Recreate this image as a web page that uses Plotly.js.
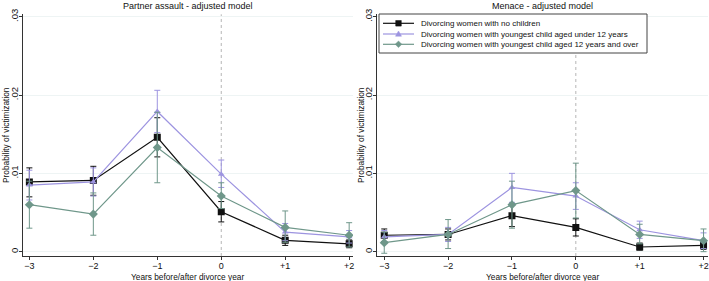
<!DOCTYPE html>
<html>
<head>
<meta charset="utf-8">
<script src="https://cdn.plot.ly/plotly-3.0.1.min.js"></script>
<style>html,body{margin:0;padding:0;background:#fff;}#chart{width:709px;height:281px;}</style>
</head>
<body>
<div id="chart"></div>
<script>
// Years relative to divorce
const years = [-3, -2, -1, 0, 1, 2];
const xTickLabels = ["\u22123", "\u22122", "\u22121", "0", "+1", "+2"];
const yTickVals = [0, 0.01, 0.02, 0.03];
const yTickLabels = ["0", ".01", ".02", ".03"];
const seriesNames = [
  "Divorcing women with no children",
  "Divorcing women with youngest child aged under 12 years",
  "Divorcing women with youngest child aged 12 years and over"
];
const panelTitles = ["Partner assault - adjusted model", "Menace - adjusted model"];
const xTitle = "Years before/after divorce year";
const yTitle = "Probability of victimization";

// Partner assault
const assaultNoChild      = [0.0089, 0.0091, 0.0146, 0.0051, 0.00145, 0.0010];
const assaultNoChildLo    = [0.0070, 0.0072, 0.0121, 0.0038, 0.0008, 0.0005];
const assaultNoChildHi    = [0.0107, 0.0109, 0.0171, 0.0064, 0.0021, 0.0015];
const assaultUnder12      = [0.0085, 0.0089, 0.0179, 0.0099, 0.0025, 0.0019];
const assaultUnder12Lo    = [0.0066, 0.0071, 0.0152, 0.0082, 0.0014, 0.0011];
const assaultUnder12Hi    = [0.0104, 0.0107, 0.0206, 0.0117, 0.0036, 0.0027];
const assault12Over       = [0.0060, 0.0048, 0.0133, 0.0071, 0.0031, 0.0021];
const assault12OverLo     = [0.0030, 0.0021, 0.0088, 0.0055, 0.0012, 0.0006];
const assault12OverHi     = [0.0090, 0.0075, 0.0178, 0.0088, 0.0052, 0.0037];

// Menace
const menaceNoChild       = [0.0021, 0.0022, 0.0046, 0.0031, 0.0006, 0.0008];
const menaceNoChildLo     = [0.0013, 0.0015, 0.0032, 0.0020, 0.0002, 0.0003];
const menaceNoChildHi     = [0.0029, 0.0029, 0.0060, 0.0042, 0.0011, 0.0013];
const menaceUnder12       = [0.0019, 0.0022, 0.0082, 0.0071, 0.0028, 0.0014];
const menaceUnder12Lo     = [0.0011, 0.0013, 0.0063, 0.0054, 0.0017, 0.0004];
const menaceUnder12Hi     = [0.0027, 0.0031, 0.0100, 0.0088, 0.0039, 0.0024];
const menace12Over        = [0.00115, 0.0022, 0.0060, 0.0078, 0.0022, 0.0014];
const menace12OverLo      = [-0.0002, 0.0004, 0.0030, 0.0043, 0.0010, 0.0000];
const menace12OverHi      = [0.0025, 0.0041, 0.0090, 0.0113, 0.0035, 0.0029];

const colors = ["#111111", "#9d94e0", "#6f978a"];
const symbols = ["square", "triangle-up", "diamond"];
const msizes = [7, 6, 7];

const W = 709, H = 281;
const px = v => v / W;          // pixel -> paper x
const py = v => 1 - v / H;      // pixel -> paper y

function mk(i, y, lo, hi, xa, ya) {
  return {
    type: "scatter", mode: "lines+markers",
    x: years, y: y, xaxis: xa, yaxis: ya,
    name: seriesNames[i], showlegend: false,
    line: {color: colors[i], width: 1.2},
    marker: {color: colors[i], symbol: symbols[i], size: msizes[i]},
    error_y: {
      type: "data", symmetric: false,
      array: hi.map((v, k) => v - y[k]),
      arrayminus: y.map((v, k) => v - lo[k]),
      color: colors[i], thickness: 1, width: 3
    }
  };
}

const data = [
  mk(0, assaultNoChild, assaultNoChildLo, assaultNoChildHi, "x", "y"),
  mk(1, assaultUnder12, assaultUnder12Lo, assaultUnder12Hi, "x", "y"),
  mk(2, assault12Over, assault12OverLo, assault12OverHi, "x", "y"),
  mk(0, menaceNoChild, menaceNoChildLo, menaceNoChildHi, "x2", "y2"),
  mk(1, menaceUnder12, menaceUnder12Lo, menaceUnder12Hi, "x2", "y2"),
  mk(2, menace12Over, menace12OverLo, menace12OverHi, "x2", "y2")
];

const fontFam = "Liberation Sans, Arial, sans-serif";
const yDom = [0.089, 0.949];

function xAxis(domain, range, anchor) {
  return {
    domain: domain, range: range, anchor: anchor, tickvals: years, ticktext: xTickLabels,
    showgrid: false, zeroline: false, showline: true, linecolor: "#333", linewidth: 1,
    ticks: "outside", ticklen: 3, tickcolor: "#333", tickwidth: 1,
    ticklabelstandoff: -2,
    tickfont: {family: fontFam, size: 9, color: "#111"},
    automargin: false
  };
}
function yAxis(anchor) {
  return {
    domain: yDom, range: [-0.00055, 0.0303], anchor: anchor,
    tickvals: yTickVals, ticktext: yTickLabels, tickangle: -90,
    showgrid: true, gridcolor: "#eef4f4", gridwidth: 1,
    zeroline: false, showline: true, linecolor: "#333", linewidth: 1,
    ticks: "outside", ticklen: 3, tickcolor: "#333", tickwidth: 1,
    ticklabelstandoff: -3,
    tickfont: {family: fontFam, size: 9.5, color: "#111"},
    automargin: false
  };
}

const font = (s) => ({family: fontFam, size: s, color: "#111"});

const annotations = [
  {text: panelTitles[0], xref: "x domain", yref: "paper", x: 0.5, y: py(6),
   xanchor: "center", yanchor: "middle", showarrow: false, font: font(9)},
  {text: panelTitles[1], xref: "x2 domain", yref: "paper", x: 0.5, y: py(6),
   xanchor: "center", yanchor: "middle", showarrow: false, font: font(9)},
  {text: xTitle, xref: "x domain", yref: "paper", x: 0.5, y: py(276.5),
   xanchor: "center", yanchor: "middle", showarrow: false, font: font(8.3)},
  {text: xTitle, xref: "x2 domain", yref: "paper", x: 0.5, y: py(276.5),
   xanchor: "center", yanchor: "middle", showarrow: false, font: font(8.3)},
  {text: yTitle, xref: "paper", yref: "paper", x: px(6), y: py(135), textangle: -90,
   xanchor: "center", yanchor: "middle", showarrow: false, font: font(8.3)},
  {text: yTitle, xref: "paper", yref: "paper", x: px(361), y: py(135), textangle: -90,
   xanchor: "center", yanchor: "middle", showarrow: false, font: font(8.3)}
];

const shapes = [
  {type: "line", xref: "x", yref: "y domain", x0: 0, x1: 0, y0: 0, y1: 1,
   line: {color: "#b5b5b5", width: 1, dash: "dot"}, layer: "below"},
  {type: "line", xref: "x2", yref: "y2 domain", x0: 0, x1: 0, y0: 0, y1: 1,
   line: {color: "#b5b5b5", width: 1, dash: "dot"}, layer: "below"},
  // legend box
  {type: "rect", xref: "paper", yref: "paper", x0: px(379), x1: px(647), y0: py(14), y1: py(53),
   line: {color: "#444", width: 1}, fillcolor: "#fff", layer: "above"}
];

// custom legend entries (compact, as in the reference)
const legendRows = [23.3, 34, 44.3];
const lx0 = 383, lx1 = 414, lmx = 398.5, ltx = 419;
legendRows.forEach((ry, i) => {
  shapes.push({type: "line", xref: "paper", yref: "paper", x0: px(lx0), x1: px(lx1), y0: py(ry), y1: py(ry),
               line: {color: colors[i], width: 1.2}, layer: "above"});
  let path;
  if (i === 0) {
    path = `M${px(lmx-2.8)},${py(ry-2.8)} L${px(lmx+2.8)},${py(ry-2.8)} L${px(lmx+2.8)},${py(ry+2.8)} L${px(lmx-2.8)},${py(ry+2.8)} Z`;
  } else if (i === 1) {
    path = `M${px(lmx)},${py(ry-3)} L${px(lmx+3)},${py(ry+2.2)} L${px(lmx-3)},${py(ry+2.2)} Z`;
  } else {
    path = `M${px(lmx)},${py(ry-3.3)} L${px(lmx+3.3)},${py(ry)} L${px(lmx)},${py(ry+3.3)} L${px(lmx-3.3)},${py(ry)} Z`;
  }
  shapes.push({type: "path", xref: "paper", yref: "paper", path: path,
               fillcolor: colors[i], line: {color: colors[i], width: 0.5}, layer: "above"});
  annotations.push({text: seriesNames[i], xref: "paper", yref: "paper", x: px(ltx), y: py(ry),
                    xanchor: "left", yanchor: "middle", showarrow: false, font: font(8)});
});

const layout = {
  width: W, height: H,
  margin: {l: 0, r: 0, t: 0, b: 0},
  paper_bgcolor: "#fff", plot_bgcolor: "#fff",
  showlegend: false,
  xaxis: xAxis([0.0324, 0.4979], [-3.1, 2.06], "y"),
  yaxis: yAxis("x"),
  xaxis2: xAxis([0.5317, 0.9986], [-3.114, 2.07], "y2"),
  yaxis2: yAxis("x2"),
  shapes: shapes,
  annotations: annotations
};

Plotly.newPlot("chart", data, layout, {displayModeBar: false, staticPlot: true});
</script>
</body>
</html>
